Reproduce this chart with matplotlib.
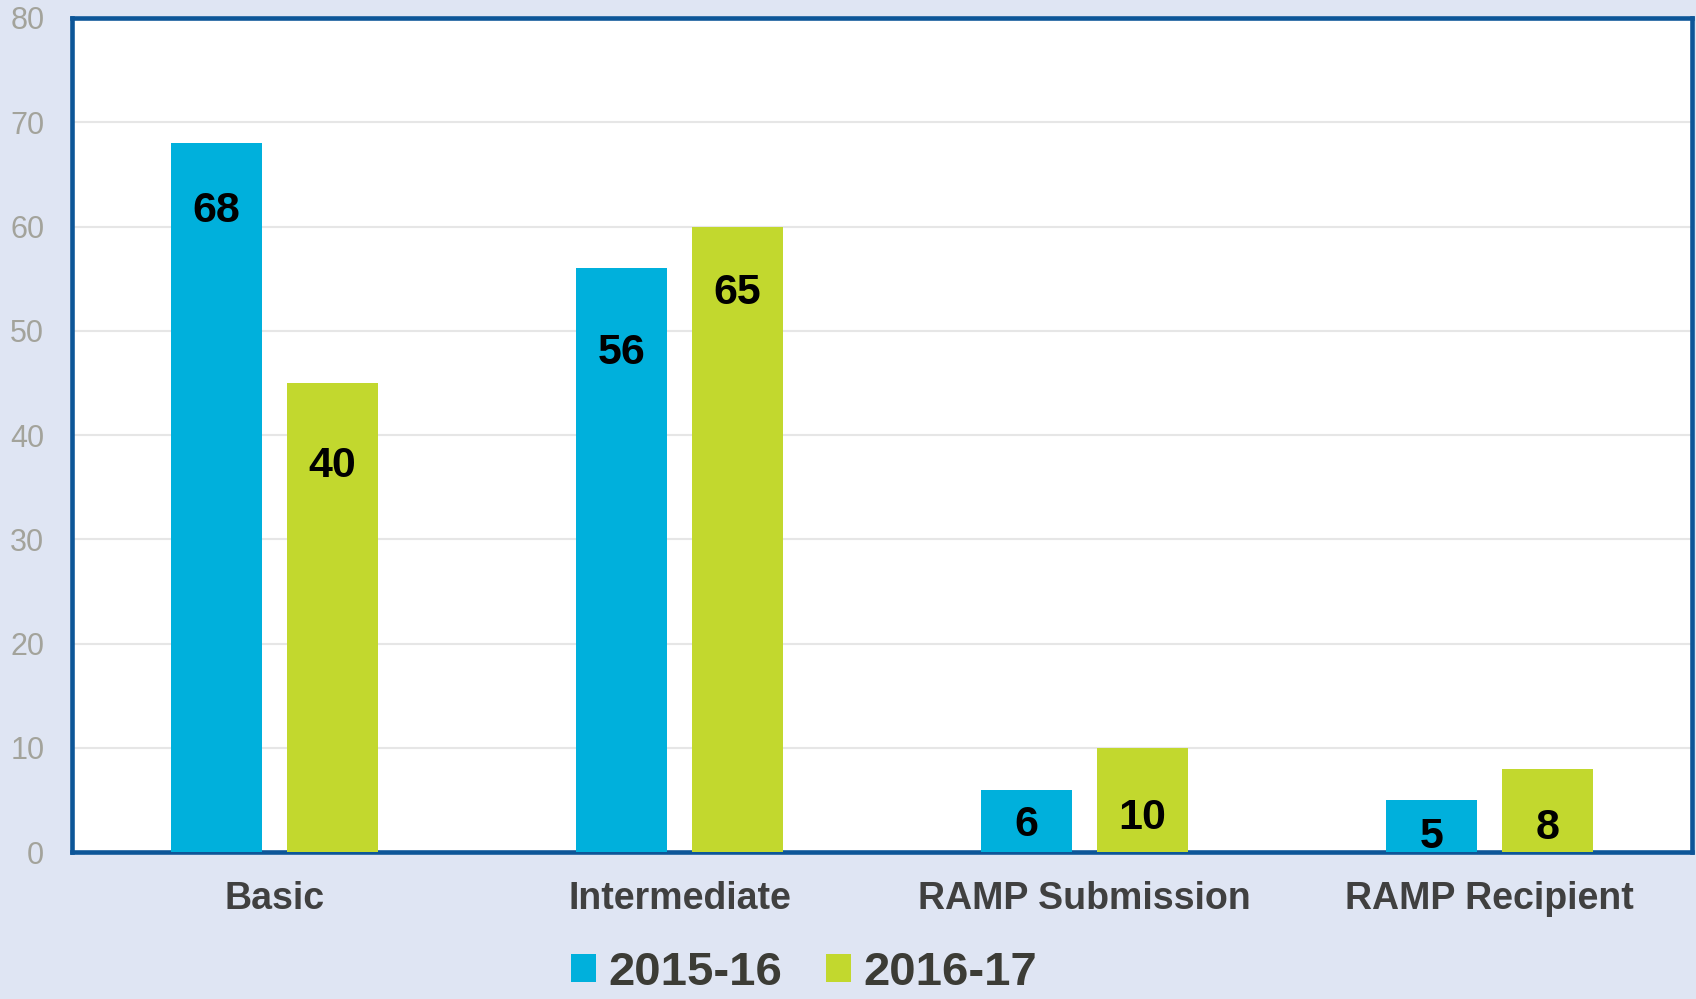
import matplotlib
matplotlib.use("Agg")
import matplotlib.pyplot as plt
from matplotlib.patches import Patch
import numpy as np

categories = ["Basic", "Intermediate", "RAMP Submission", "RAMP Recipient"]
series_names = ["2015-16", "2016-17"]
bars_2015 = [68, 56, 6, 5]
bars_2016 = [45, 60, 10, 8]
labels_2015 = ["68", "56", "6", "5"]
labels_2016 = ["40", "65", "10", "8"]
# vertical centres of the value labels (data units)
label_y_2015 = [61.5, 47.9, 2.6, 1.5]
label_y_2016 = [37.0, 53.6, 3.3, 2.3]
yticks = [0, 10, 20, 30, 40, 50, 60, 70, 80]

plt.rcParams['font.family'] = ['Liberation Sans', 'DejaVu Sans']

BG = "#dfe5f3"
BLUE = "#00b0dc"
GREEN = "#c2d82e"
FRAME = "#0d5698"

fig = plt.figure(figsize=(16.96, 9.99), dpi=100, facecolor=BG)
ax = fig.add_axes([0.0425, 0.147, 0.955, 0.835])
ax.set_facecolor("white")

x = np.arange(len(categories))
w = 0.225
off = 0.143
ax.bar(x - off, bars_2015, width=w, color=BLUE, zorder=3)
ax.bar(x + off, bars_2016, width=w, color=GREEN, zorder=3)

for xi, ly, lab in zip(x - off, label_y_2015, labels_2015):
    ax.text(xi, ly, lab, ha="center", va="center", fontsize=31,
            fontweight="bold", color="black", zorder=4)
for xi, ly, lab in zip(x + off, label_y_2016, labels_2016):
    ax.text(xi, ly, lab, ha="center", va="center", fontsize=31,
            fontweight="bold", color="black", zorder=4)

ax.set_xlim(-0.5, 3.5)
ax.set_ylim(0, 80)
ax.set_yticks(yticks)
ax.set_xticks(x)
ax.set_xticklabels(categories, fontsize=27, fontweight="bold", color="#404040")
ax.tick_params(axis="x", length=0, pad=21)
ax.tick_params(axis="y", length=0, pad=20, labelsize=22, labelcolor="#a3a39b")
ax.yaxis.grid(True, color="#e6e6e6", linewidth=1.5, zorder=0)
ax.set_axisbelow(True)
for s in ax.spines.values():
    s.set_color(FRAME)
    s.set_linewidth(3.3)

handles = [Patch(facecolor=BLUE, edgecolor="none"), Patch(facecolor=GREEN, edgecolor="none")]
fig.legend(handles, series_names, loc="center", bbox_to_anchor=(0.474, 0.026),
           ncol=2, frameon=False, prop={"size": 34, "weight": "bold"},
           handlelength=0.53, handleheight=0.53, handletextpad=0.26,
           columnspacing=0.94, labelcolor="#3c3c36", borderpad=0, borderaxespad=0)

fig.savefig("out.png", dpi=100, facecolor=BG)
